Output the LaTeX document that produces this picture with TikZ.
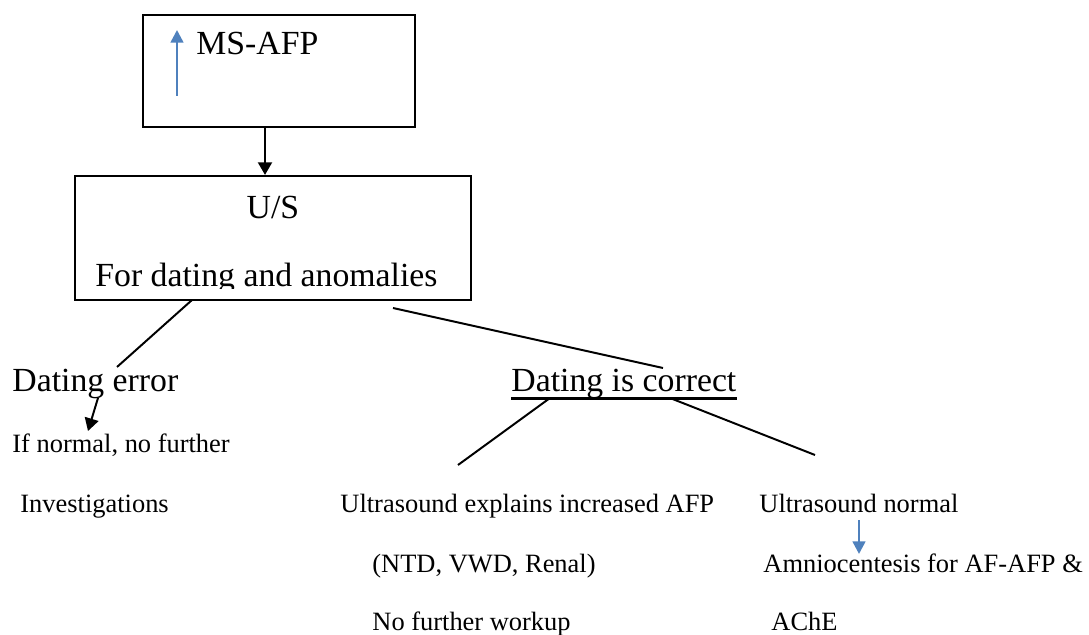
\documentclass[tikz,border=0pt]{standalone}
\usepackage{fontspec}
\setmainfont{Liberation Serif}
\usetikzlibrary{arrows.meta}
\definecolor{upblue}{RGB}{79,129,189}

\begin{document}
\begin{tikzpicture}[x=0.025cm, y=-0.025cm, semithick]
  \tikzstyle{box}=[draw, line width=1.5pt, inner sep=0pt]
  \tikzstyle{big}=[inner sep=0pt, font=\fontsize{24}{28}\selectfont]
  \tikzstyle{small}=[inner sep=0pt, font=\fontsize{18.8}{22}\selectfont]
  \tikzstyle{link}=[line width=1.4pt]
  \tikzstyle{arr}=[line width=1.4pt, -{Triangle[length=9pt, width=10pt]}]
  \tikzstyle{blue arr}=[line width=1.8pt, draw=upblue, -{Triangle[length=9pt, width=9pt, fill=upblue]}]
  \useasboundingbox (0,0) rectangle (1089,635);

  % boxes
  \node[box, minimum width=6.8cm, minimum height=2.8cm] (afp) at (279,71) {};
  \node[box, minimum width=9.9cm, minimum height=3.1cm] (us) at (273,238) {};
  \node[big, anchor=base west] (msafp) at (196,55) {MS-AFP};
  \node[big, anchor=base] (ustitle) at (273,219) {U/S};
  \begin{scope}
    \clip (75,176) rectangle (471,289);
    \node[big, anchor=base west] (usaim) at (95,287) {For dating and anomalies};
  \end{scope}

  % branches
  \node[big, anchor=base west] (err) at (12,391) {Dating error};
  \node[small, anchor=base west] (err1) at (12,452) {If normal, no further};
  \node[small, anchor=base west] (err2) at (20,512) {Investigations};
  \node[big, anchor=base west] (ok) at (511,391) {Dating is correct};
  \node[small, anchor=base west] (expl1) at (340,512) {Ultrasound explains increased AFP};
  \node[small, anchor=base west] (expl2) at (372,572) {(NTD, VWD, Renal)};
  \node[small, anchor=base west] (expl3) at (372,630) {No further workup};
  \node[small, anchor=base west] (norm1) at (759,512) {Ultrasound normal};
  \node[small, anchor=base west] (norm2) at (763,572) {Amniocentesis for AF-AFP \&};
  \node[small, anchor=base west] (norm3) at (771,630) {AChE};

  % line ends
  \coordinate (upbot) at (177,96);
  \coordinate (uptop) at (177,30);
  \coordinate (down) at (265,0);
  \coordinate (errs) at (192,300);
  \coordinate (erre) at (117,367);
  \coordinate (oks) at (393,308);
  \coordinate (oke) at (663,368);
  \coordinate (errarr) at (98,398);
  \coordinate (errtip) at (88,431);
  \coordinate (expls) at (550,398);
  \coordinate (exple) at (458,465);
  \coordinate (norms) at (670,398);
  \coordinate (norme) at (815,455);
  \coordinate (normarr) at (859,520);
  \coordinate (normtip) at (859,554);

  \draw[blue arr] (upbot) -- (uptop);
  \draw[arr] (afp.south -| down) -- (us.north -| down);
  \draw[link] (errs) -- (erre);
  \draw[link] (oks) -- (oke);
  \draw[arr] (errarr) -- (errtip);
  \draw[line width=2pt] (ok.south west) -- (ok.south east);
  \draw[link] (expls) -- (exple);
  \draw[link] (norms) -- (norme);
  \draw[blue arr] (normarr) -- (normtip);
\end{tikzpicture}
\end{document}
